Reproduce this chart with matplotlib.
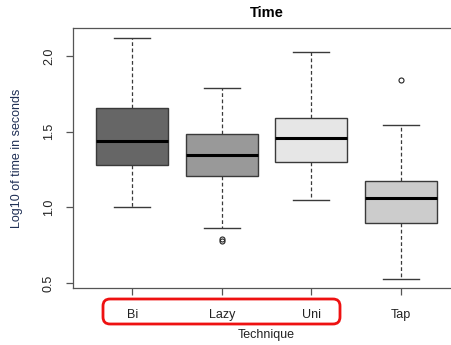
import matplotlib
matplotlib.use("Agg")
import matplotlib.pyplot as plt
from matplotlib.patches import FancyBboxPatch

plt.rcParams['font.family'] = ['Liberation Sans', 'DejaVu Sans']

# values (log10 seconds)
techniques = ["Bi", "Lazy", "Uni", "Tap"]
whisker_low = [1.002, 0.861, 1.046, 0.526]
q1 = [1.282, 1.205, 1.299, 0.896]
medians = [1.438, 1.344, 1.456, 1.061]
q3 = [1.654, 1.484, 1.592, 1.172]
whisker_high = [2.117, 1.789, 2.024, 1.544]
outliers = [[], [0.79, 0.78], [], [1.843]]
fill_colors = ["#666666", "#999999", "#e6e6e6", "#cccccc"]

stats = []
for i, name in enumerate(techniques):
    stats.append({"label": name, "whislo": whisker_low[i], "q1": q1[i],
                  "med": medians[i], "q3": q3[i], "whishi": whisker_high[i],
                  "fliers": outliers[i]})

fig = plt.figure(figsize=(4.51, 3.45), dpi=100)
ax = fig.add_axes([73 / 451, 1 - 288 / 345, 387 / 451, 260 / 345])

bp = ax.bxp(stats, positions=[1, 2, 3, 4], widths=0.8, patch_artist=True,
            capwidths=0.4,
            boxprops=dict(edgecolor="#3a3a3a", linewidth=1.0),
            medianprops=dict(color="black", linewidth=2.2),
            whiskerprops=dict(color="#3a3a3a", linestyle=(0, (3, 2)), linewidth=0.9),
            capprops=dict(color="#3a3a3a", linewidth=1.0),
            flierprops=dict(marker="o", markersize=3.6, markerfacecolor="none",
                            markeredgecolor="#222222", markeredgewidth=0.8))
for patch, c in zip(bp["boxes"], fill_colors):
    patch.set_facecolor(c)

ax.set_xlim(0.34, 4.66)
ax.set_ylim(0.467, 2.185)
ax.set_yticks([0.5, 1.0, 1.5, 2.0])
ax.set_yticklabels(["0.5", "1.0", "1.5", "2.0"], rotation=90, va="center")
ax.set_xticks([1, 2, 3, 4])
ax.set_xticklabels(techniques)
ax.tick_params(axis="both", length=5, width=0.9, color="#555555",
               labelsize=9, labelcolor="#222222")
ax.tick_params(axis="y", pad=8)
ax.tick_params(axis="x", pad=10)
for sp in ax.spines.values():
    sp.set_color("#555555")
    sp.set_linewidth(0.9)

ax.set_title("Time", fontsize=10.5, fontweight="bold", pad=8)
ax.set_xlabel("Technique", fontsize=9, color="#222222", labelpad=6)
ax.set_ylabel("Log10 of time in seconds", fontsize=9, color="#1f2f55", labelpad=14)

# red highlight round the first three labels
rect = FancyBboxPatch((1.03, 0.21), 2.37, 0.25,
                      boxstyle="round,pad=0,rounding_size=0.07",
                      transform=fig.dpi_scale_trans, fill=False,
                      edgecolor="#ee1111", linewidth=2.0, clip_on=False)
fig.patches.append(rect)

fig.savefig("out.png", dpi=100)
